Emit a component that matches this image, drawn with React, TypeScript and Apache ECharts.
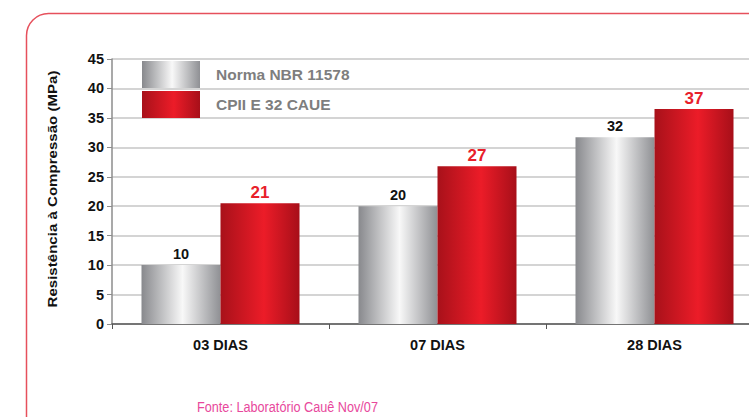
import React, { useEffect, useRef } from "react";
import * as echarts from "echarts";

const categories = ["03 DIAS", "07 DIAS", "28 DIAS"];
const normaValues = [10, 20, 31.7];
const caueValues = [20.5, 26.8, 36.5];
const seriesNames = ["Norma NBR 11578", "CPII E 32 CAUE"];
const yAxisName = "Resistência à Compressão (MPa)";
const sourceText = "Fonte: Laboratório Cauê Nov/07";

const FONT = "Liberation Sans, Arial, Helvetica, sans-serif";

export default function App() {
  const ref = useRef<HTMLDivElement>(null);
  useEffect(() => {
    if (!ref.current) return;
    const chart = echarts.init(ref.current, undefined, { renderer: "svg" });
    const grayGrad = new echarts.graphic.LinearGradient(0, 0, 1, 0, [
      { offset: 0, color: "#88898d" },
      { offset: 0.52, color: "#f8f8f8" },
      { offset: 1, color: "#8f9094" },
    ]);
    const redGrad = new echarts.graphic.LinearGradient(0, 0, 1, 0, [
      { offset: 0, color: "#a8111a" },
      { offset: 0.55, color: "#ec1c28" },
      { offset: 1, color: "#a70f19" },
    ]);
    chart.setOption({
      animation: false,
      backgroundColor: "#ffffff",
      textStyle: { fontFamily: FONT },
      grid: { left: 112, top: 59, width: 651, height: 265, containLabel: false },
      legend: {
        orient: "vertical",
        left: 142,
        top: 61,
        padding: 0,
        itemWidth: 58,
        itemHeight: 27,
        itemGap: 3,
        icon: "rect",
        data: seriesNames,
        textStyle: {
          fontFamily: FONT,
          fontSize: 15.5,
          fontWeight: "bold",
          color: "#7e7e7e",
          padding: [0, 0, 0, 11],
        },
      },
      xAxis: {
        type: "category",
        data: categories,
        axisLine: { lineStyle: { color: "#555555", width: 1.5 } },
        axisTick: { show: true, length: 5, lineStyle: { color: "#555555" } },
        axisLabel: {
          fontFamily: FONT,
          fontSize: 14.5,
          fontWeight: "bold",
          color: "#111111",
          margin: 13,
        },
      },
      yAxis: {
        type: "value",
        min: 0,
        max: 45,
        interval: 5,
        axisLine: { show: true, lineStyle: { color: "#8c8c8c", width: 1.5 } },
        axisTick: { show: true, length: 5, lineStyle: { color: "#8c8c8c" } },
        axisLabel: {
          fontFamily: FONT,
          fontSize: 14.5,
          fontWeight: "bold",
          color: "#111111",
          margin: 8,
        },
        splitLine: { lineStyle: { color: "#c6c6c6", width: 1.5 } },
      },
      series: [
        {
          name: seriesNames[0],
          type: "bar",
          data: normaValues,
          barWidth: 79,
          barGap: "0%",
          itemStyle: { color: grayGrad },
          label: {
            show: true,
            position: "top",
            distance: 4,
            fontFamily: FONT,
            fontSize: 14.5,
            fontWeight: "bold",
            color: "#111111",
            formatter: (p: any) => String(Math.round(p.value)),
          },
        },
        {
          name: seriesNames[1],
          type: "bar",
          data: caueValues,
          barWidth: 79,
          barGap: "0%",
          itemStyle: { color: redGrad },
          label: {
            show: true,
            position: "top",
            distance: 2,
            fontFamily: FONT,
            fontSize: 17,
            fontWeight: "bold",
            color: "#e8202a",
            formatter: (p: any) => String(Math.round(p.value)),
          },
        },
      ],
      graphic: [
        {
          type: "rect",
          left: 24,
          top: 11,
          shape: { x: 0, y: 0, width: 820, height: 500, r: 22 },
          style: { fill: "none", stroke: "#e6505c", lineWidth: 1.5 },
          z: -1,
          silent: true,
        },
        {
          type: "text",
          x: 52.5,
          y: 189,
          rotation: Math.PI / 2,
          scaleX: 1.16,
          style: {
            text: yAxisName,
            font: "bold 13px " + FONT,
            fill: "#111111",
            textAlign: "center",
            textVerticalAlign: "middle",
          },
          silent: true,
        },
        {
          type: "text",
          x: 197,
          y: 399,
          scaleX: 0.845,
          style: {
            text: sourceText,
            font: "normal 15px " + FONT,
            fill: "#e8489c",
          },
          silent: true,
        },
      ],
    });
    return () => chart.dispose();
  }, []);
  return (
    <div
      style={{
        position: "fixed",
        left: 0,
        top: 0,
        width: 749,
        height: 417,
        overflow: "hidden",
        background: "#ffffff",
      }}
    >
      <div ref={ref} style={{ width: 800, height: 417 }} />
    </div>
  );
}
